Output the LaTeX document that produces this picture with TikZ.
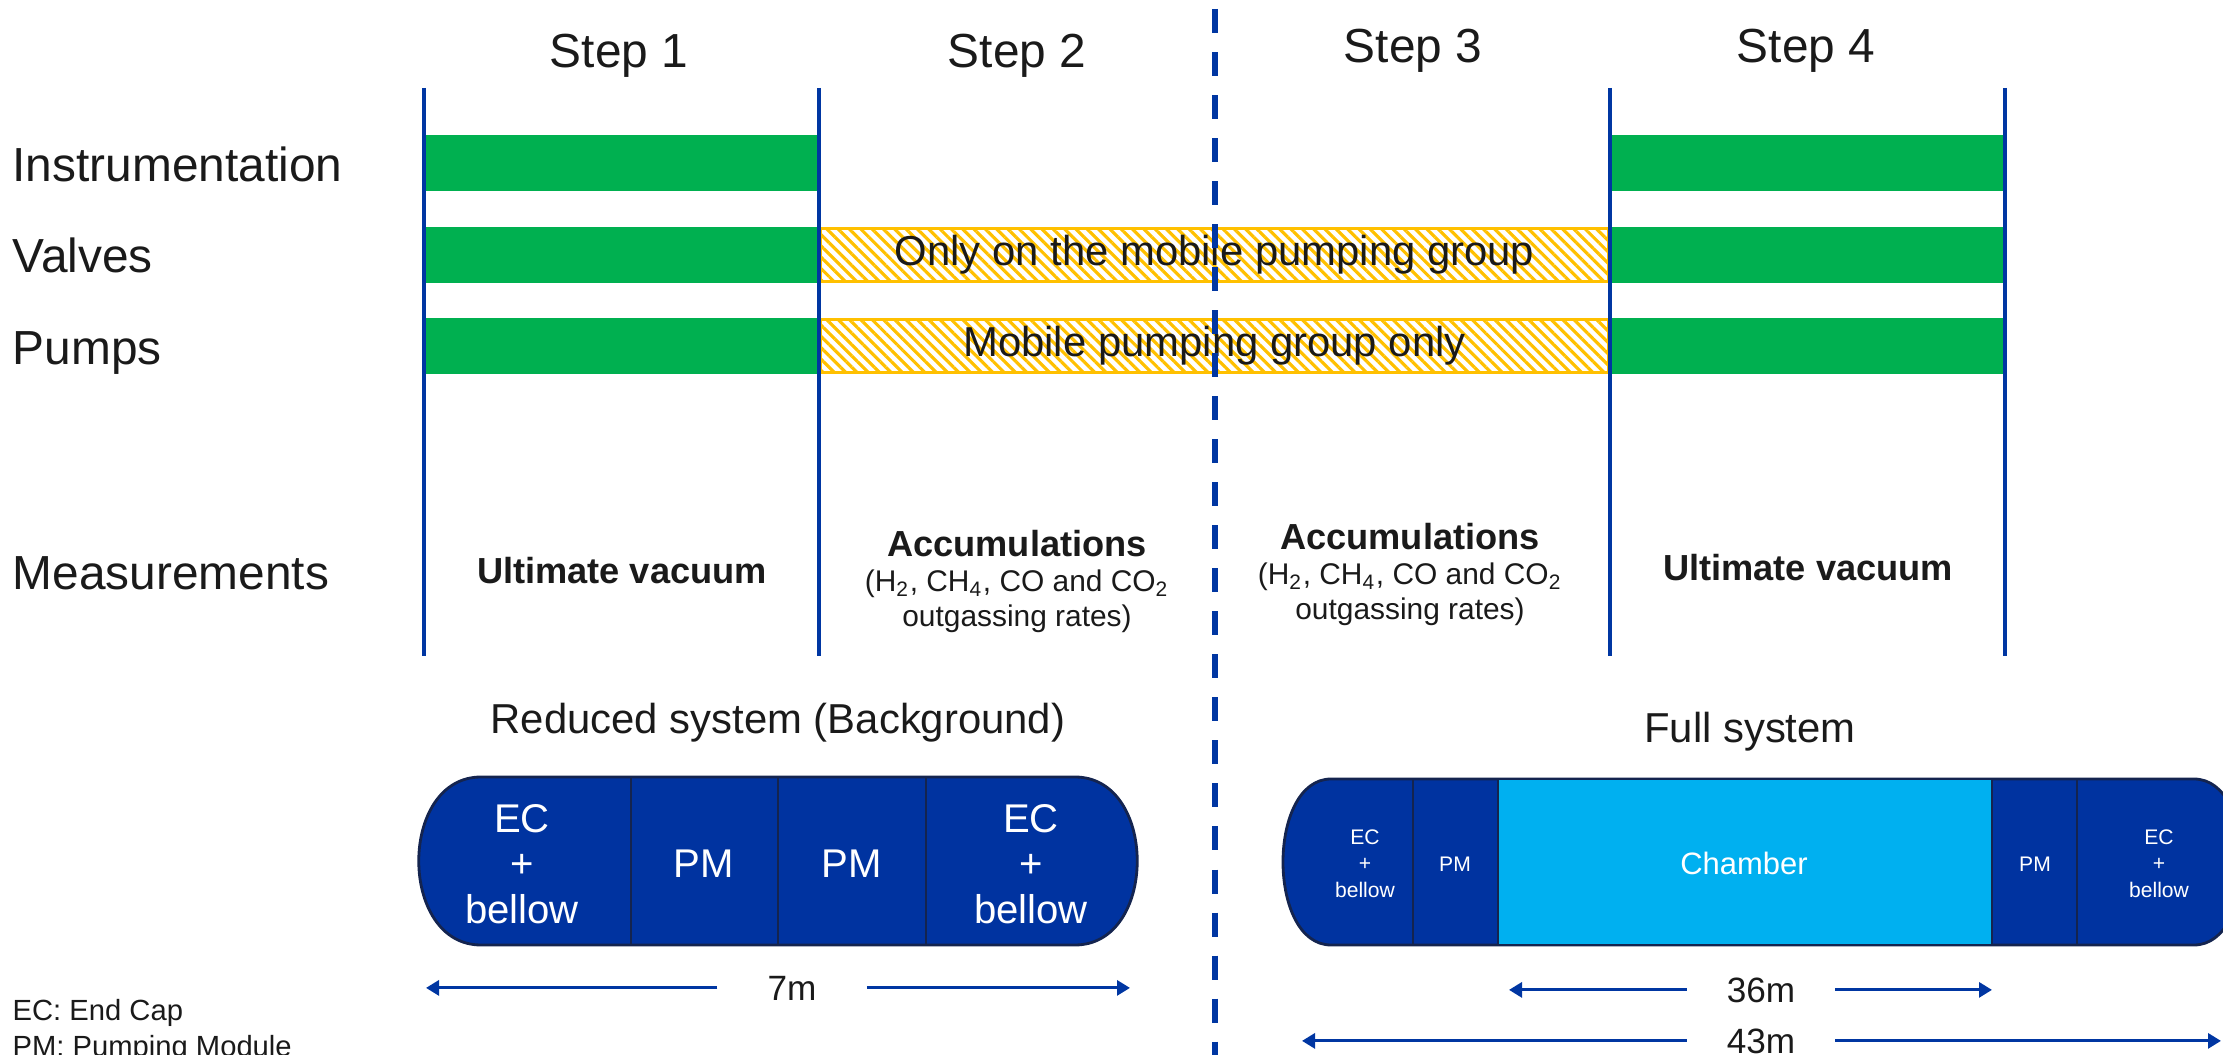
\documentclass[tikz,border=0pt]{standalone}
\usepackage{fontspec}
\setmainfont{Liberation Sans}
\usetikzlibrary{arrows.meta,patterns.meta}
\definecolor{barGreen}{HTML}{00B050}
\definecolor{lineBlue}{HTML}{0036A2}
\definecolor{modBlue}{HTML}{0033A0}
\definecolor{modEdge}{HTML}{14244F}
\definecolor{chamberCyan}{HTML}{00B0F0}
\definecolor{hatchYellow}{HTML}{FFC000}
\definecolor{inkBlack}{HTML}{1A1A1A}
\newcommand{\fsz}[2]{\fontsize{#1}{#2}\selectfont}

\begin{document}
\begin{tikzpicture}[
    x=0.01cm, y=-0.01cm,
    every node/.style={text=inkBlack, inner sep=0pt},
    rowlab/.style={anchor=base west, font=\fsz{13.6}{16}},
    steplab/.style={anchor=base, font=\fsz{13.6}{16}},
    gbar/.style={fill=barGreen, minimum width=3.95cm, minimum height=0.56cm},
    hbar/.style={draw=hatchYellow, line width=0.85pt, pattern={Lines[angle=-45,distance=0.08cm,line width=0.9pt]}, pattern color=hatchYellow, minimum width=7.87cm, minimum height=0.53cm, font=\fsz{11.9}{14}},
    stepline/.style={lineBlue, line width=1.4pt},
    splitline/.style={lineBlue, line width=1.7pt, dash pattern=on 0.24cm off 0.19cm},
    meas/.style={anchor=base, align=center, font=\fsz{8.5}{10}},
    syslab/.style={anchor=base, font=\fsz{11.9}{14}},
    module/.style={draw=modEdge, line width=0.8pt, fill=modBlue},
    bigtxt/.style={anchor=base, align=center, text=white, font=\fsz{11.4}{12.8}},
    smalltxt/.style={anchor=base, align=center, text=white, font=\fsz{6}{7.4}},
    dimlab/.style={anchor=base, font=\fsz{10}{12}},
    dim/.style={lineBlue, line width=0.85pt, -{Triangle[length=0.13cm,width=0.15cm]}},
    legend/.style={anchor=base west, align=left, font=\fsz{8.3}{10}}
]
  \useasboundingbox (0,0) rectangle (2223,1055);

  % steps
  \node[steplab] (s1) at (619,68) {Step 1};
  \node[steplab] (s2) at (1017,68) {Step 2};
  \node[steplab] (s3) at (1413,63) {Step 3};
  \node[steplab] (s4) at (1806,63) {Step 4};

  % row labels
  \node[rowlab] (rins) at (12,182) {Instrumentation};
  \node[rowlab] (rval) at (12,273) {Valves};
  \node[rowlab] (rpmp) at (12,365) {Pumps};
  \node[rowlab] (rmeas) at (12,590) {Measurements};

  % bars
  \foreach \r/\y in {ins/163, val/255, pmp/346} {
    \node[gbar] (\r1) at (621.5,\y) {};
    \node[gbar] (\r4) at (1807.5,\y) {};
  }
  \node[hbar] (valmid) at (1214.5,255) {Only on the mobile pumping group};
  \node[hbar] (pmpmid) at (1214.5,346) {Mobile pumping group only};

  \foreach \x in {424,819,1610,2005}
    \draw[stepline] (\x,88) -- (\x,656);

  % measurements (base = last line)
  \node[meas] (m1) at (622,584) {\fsz{10.3}{12}\bfseries Ultimate vacuum};
  \node[meas] (m2) at (1017,627) {{\fsz{10.3}{12}\bfseries Accumulations}\\(H\textsubscript{2}, CH\textsubscript{4}, CO and CO\textsubscript{2}\\outgassing rates)};
  \node[meas] (m3) at (1410,620) {{\fsz{10.3}{12}\bfseries Accumulations}\\(H\textsubscript{2}, CH\textsubscript{4}, CO and CO\textsubscript{2}\\outgassing rates)};
  \node[meas] (m4) at (1808,581) {\fsz{10.3}{12}\bfseries Ultimate vacuum};

  % reduced system
  \node[syslab] (redlab) at (778,734) {Reduced system (Background)};
  \draw[module] (481,777) -- (1075,777) .. controls (1158,777) and (1158,945) .. (1075,945) -- (481,945) .. controls (398,945) and (398,777) .. (481,777) -- cycle;
  \foreach \x in {631,778,926}
    \draw[modEdge, line width=0.8pt] (\x,777) -- (\x,945);
  \node[bigtxt] (rec1) at (522,923) {EC\\+\\bellow};
  \node[bigtxt] (rpm1) at (704,877) {PM};
  \node[bigtxt] (rpm2) at (852,877) {PM};
  \node[bigtxt] (rec2) at (1031,923) {EC\\+\\bellow};

  \node[dimlab, minimum width=1.48cm] (d7) at (792,1000) {7m};
  \coordinate (d7l) at (426,987);
  \coordinate (d7r) at (1130,987);
  \draw[dim] (d7.west) -- (d7.west -| d7l);
  \draw[dim] (d7.east) -- (d7.east -| d7r);

  % full system
  \node[syslab] (fulllab) at (1750,743) {Full system};
  \draw[module] (1331,779) -- (2194,779) .. controls (2258,779) and (2258,945) .. (2194,945) -- (1331,945) .. controls (1267,945) and (1267,779) .. (1331,779) -- cycle;
  \draw[modEdge, line width=0.8pt, fill=chamberCyan] (1498,779) rectangle (1992,945);
  \foreach \x in {1413,2077}
    \draw[modEdge, line width=0.8pt] (\x,779) -- (\x,945);
  \node[smalltxt] (fec1) at (1365,897) {EC\\+\\bellow};
  \node[smalltxt] (fpm1) at (1455,872) {PM};
  \node[anchor=base, text=white, font=\fsz{8.8}{10}] (cham) at (1744,875) {Chamber};
  \node[smalltxt] (fpm2) at (2035,872) {PM};
  \node[smalltxt] (fec2) at (2159,897) {EC\\+\\bellow};

  \node[dimlab, minimum width=1.47cm] (d36) at (1761,1002) {36m};
  \coordinate (d36l) at (1509,986);
  \coordinate (d36r) at (1992,986);
  \draw[dim] (d36.west) -- (d36.west -| d36l);
  \draw[dim] (d36.east) -- (d36.east -| d36r);

  \node[dimlab, minimum width=1.47cm] (d43) at (1761,1053) {43m};
  \coordinate (d43l) at (1302,1038);
  \coordinate (d43r) at (2221,1038);
  \draw[dim] (d43.west) -- (d43.west -| d43l);
  \draw[dim] (d43.east) -- (d43.east -| d43r);

  % split between reduced and full system
  \draw[splitline] (1215,9) -- (1215,1055);

  % legend
  \node[legend] (leg) at (12,1056) {EC: End Cap\\PM: Pumping Module};
\end{tikzpicture}
\end{document}
